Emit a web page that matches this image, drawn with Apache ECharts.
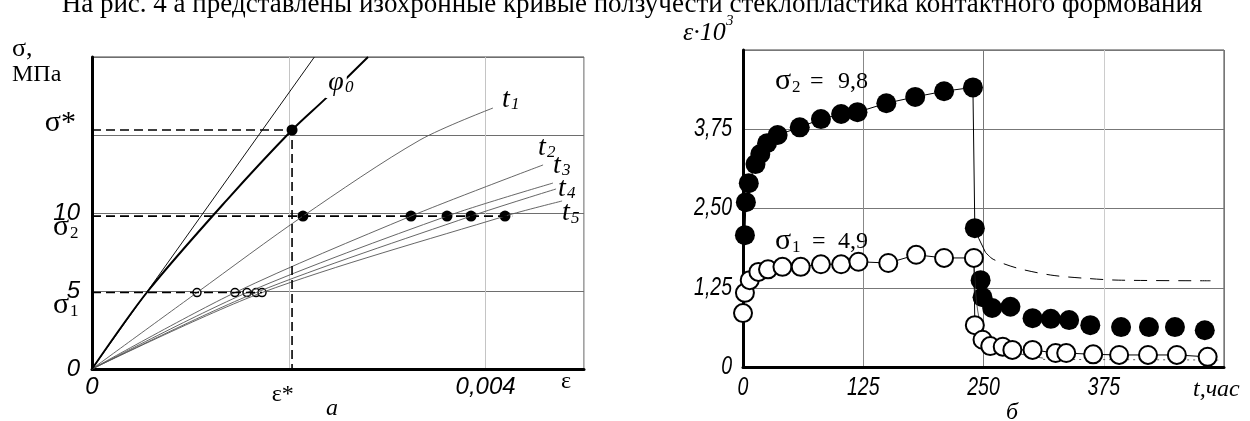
<!DOCTYPE html>
<html>
<head>
<meta charset="utf-8">
<script src="https://cdn.jsdelivr.net/npm/echarts@6/dist/echarts.min.js"></script>
<style>
html, body { margin: 0; padding: 0; background: #fff; }
#chart { width: 1250px; height: 421px; }
</style>
</head>
<body>
<div id="chart"></div>
<script>
// ---- panel a: isochronous creep curves, sigma (MPa) vs strain
const sigmaStar = 15.32
const epsStar = 0.002033
const sigma1 = 4.9
const sigma2 = 9.8
const elastic = [[0, 0], [0.00226, 20]]
const phi0 = [[0, 0], [0.000569, 5], [0.00137, 10.83], [0.002033, 15.32], [0.002368, 17.3], [0.002805, 20]]
const t1 = [[0, 0], [0.001067, 4.9], [0.002144, 9.8], [0.003333, 14.68], [0.004075, 16.73]]
const t2 = [[0, 0], [0.001453, 4.9], [0.003242, 9.8], [0.004584, 13.08]]
const t3 = [[0, 0], [0.001575, 4.9], [0.003608, 9.8], [0.004685, 11.92]]
const t4 = [[0, 0], [0.001667, 4.9], [0.003852, 9.8], [0.004716, 11.54]]
const t5 = [[0, 0], [0.001728, 4.9], [0.004197, 9.8], [0.004777, 10.77]]
const epsSigma1 = [0.001067, 0.001453, 0.001575, 0.001667, 0.001728]
const epsSigma2 = [0.002144, 0.003242, 0.003608, 0.003852, 0.004197]
const sigma2DashEnd = 0.00427

// ---- panel b: creep and recovery, strain*10^3 vs hours
const hoursLoad2 = [2, 3, 6, 13, 18, 25, 36, 59, 81, 102, 119, 149, 179, 209, 239]
const strainLoad2 = [2.08, 2.60, 2.90, 3.20, 3.36, 3.53, 3.66, 3.78, 3.91, 3.99, 4.02, 4.16, 4.26, 4.35, 4.41]
const hoursRec2 = [241, 247, 249, 259, 278, 301, 320, 339, 361, 393, 422, 449, 480]
const strainRec2 = [2.19, 1.37, 1.10, 0.93, 0.95, 0.77, 0.76, 0.74, 0.66, 0.63, 0.63, 0.63, 0.58]
const hours1 = [0, 2, 7, 16, 26, 41, 60, 81, 102, 120, 151, 180, 209, 240,
  241, 249, 257, 270, 280, 301, 325, 336, 364, 391, 421, 451, 483]
const strain1 = [0.85, 1.17, 1.37, 1.50, 1.54, 1.58, 1.58, 1.62, 1.62, 1.66, 1.64, 1.77, 1.72, 1.72,
  0.66, 0.43, 0.33, 0.32, 0.27, 0.27, 0.22, 0.22, 0.20, 0.19, 0.19, 0.19, 0.16]
const drop2 = [[239, 4.41], [241, 2.19], [245, 2.03], [252, 1.81]]
const model2 = [[252, 1.81], [260, 1.70], [285, 1.56], [320, 1.45], [355, 1.40], [390, 1.37], [486, 1.36]]
const model1 = [[240, 1.72], [242, 1.15], [245, 0.80], [250, 0.55], [258, 0.40], [270, 0.30], [290, 0.20], [312, 0.14]]
const model1Tail = [[312, 0.12], [494, 0.11]]
const hourTicks = [0, 125, 250, 375]
const hourLabels = ['0', '125', '250', '375']
const strainTicks = [0, 1.25, 2.5, 3.75]
const strainLabels = ['0', '1,25', '2,50', '3,75']

const serif = "'Liberation Serif', 'Times New Roman', serif"
const sans = "'Liberation Sans', Arial, sans-serif"

const zip = (xs, ys) => xs.map((x, i) => [x, ys[i]])

function txt(x, y, text, size, family, italic, align, extra) {
    return {
        type: 'text', x: x, y: y, z: 100,
        style: Object.assign({
            text: text, fontSize: size, fontFamily: family,
            fontStyle: italic ? 'italic' : 'normal', fill: '#000',
            align: align || 'left', verticalAlign: 'middle'
        }, extra || {})
    }
}

const chart = echarts.init(document.getElementById('chart'))

const thinCurve = (data) => ({
    type: 'line', xAxisIndex: 0, yAxisIndex: 0, data: data, smooth: 0.3,
    showSymbol: false, silent: true, clip: false,
    lineStyle: { color: '#555', width: 0.9 }
})
const dashed = (data) => ({
    type: 'line', xAxisIndex: 0, yAxisIndex: 0, data: data,
    showSymbol: false, silent: true, clip: false,
    lineStyle: { color: '#000', width: 1.6, type: [9, 5] }
})

const option = {
    animation: false,
    grid: [
        { left: 92, top: 57, width: 492, height: 312, show: true, borderColor: '#444', borderWidth: 1, outerBoundsMode: 'none' },
        { left: 743, top: 50, width: 481, height: 317, show: true, borderColor: '#444', borderWidth: 1, outerBoundsMode: 'none' }
    ],
    xAxis: [
        {
            gridIndex: 0, type: 'value', min: 0, max: 0.005, interval: 0.002,
            axisLine: { lineStyle: { color: '#000', width: 3 } },
            axisTick: { show: false },
            splitLine: { show: true, lineStyle: { color: '#c4c4c4', width: 1 } },
            axisLabel: {
                margin: 6, fontSize: 24, fontStyle: 'italic', fontFamily: sans, color: '#000',
                formatter: v => Math.abs(v) < 1e-9 ? '0' : Math.abs(v - 0.004) < 1e-9 ? '0,004' : Math.abs(v - 0.002) < 1e-9 ? '{e|ε*}' : '',
                rich: { e: { fontFamily: serif, fontStyle: 'normal', fontSize: 24, padding: [8, 12, 0, 0] } }
            }
        },
        {
            gridIndex: 1, type: 'value', min: 0, max: 500, interval: 125,
            axisLine: { lineStyle: { color: '#000', width: 3 } },
            axisTick: { show: false },
            splitLine: { show: true, lineStyle: { color: ['#888', '#888', '#777', '#cccccc', '#777'], width: 1 } },
            axisLabel: { show: false }
        }
    ],
    yAxis: [
        {
            gridIndex: 0, type: 'value', min: 0, max: 20, interval: 5,
            axisLine: { show: true, lineStyle: { color: '#000', width: 3 } },
            axisTick: { show: false },
            splitLine: { show: true, lineStyle: { color: '#6e6e6e', width: 1 } },
            axisLabel: {
                margin: 12, fontSize: 24, fontStyle: 'italic', fontFamily: sans, color: '#000',
                formatter: v => ({ 0: '0', 5: '5', 10: '10' })[Math.round(v)] || ''
            }
        },
        {
            gridIndex: 1, type: 'value', min: 0, max: 5, interval: 1.25,
            axisLine: { show: true, lineStyle: { color: '#000', width: 3 } },
            axisTick: { show: false },
            splitLine: { show: true, lineStyle: { color: '#777', width: 1 } },
            axisLabel: { show: false }
        }
    ],
    series: [
        // panel a
        thinCurve(t1), thinCurve(t2), thinCurve(t3), thinCurve(t4), thinCurve(t5),
        {
            type: 'line', xAxisIndex: 0, yAxisIndex: 0, data: elastic, showSymbol: false, silent: true, clip: false,
            lineStyle: { color: '#111', width: 1 }
        },
        {
            type: 'line', xAxisIndex: 0, yAxisIndex: 0, data: phi0, smooth: 0.3, showSymbol: false, silent: true, clip: false,
            lineStyle: { color: '#000', width: 2 }
        },
        dashed([[0, sigmaStar], [epsStar, sigmaStar], [epsStar, 0]]),
        dashed([[0, sigma2], [sigma2DashEnd, sigma2]]),
        dashed([[0, sigma1], [epsSigma1[epsSigma1.length - 1], sigma1]]),
        {
            type: 'scatter', xAxisIndex: 0, yAxisIndex: 0, symbolSize: 11, silent: true,
            data: [[epsStar, sigmaStar]].concat(epsSigma2.map(e => [e, sigma2])),
            itemStyle: { color: '#000', opacity: 1 }
        },
        {
            type: 'scatter', xAxisIndex: 0, yAxisIndex: 0, symbolSize: 8, silent: true,
            data: epsSigma1.map(e => [e, sigma1]),
            itemStyle: { color: '#fff', borderColor: '#000', borderWidth: 1.5, opacity: 1 }
        },
        // panel b
        {
            type: 'line', xAxisIndex: 1, yAxisIndex: 1, data: model2, smooth: 0.3, showSymbol: false, silent: true, clip: false,
            lineStyle: { color: '#000', width: 1, type: [13, 9] }
        },
        {
            type: 'line', xAxisIndex: 1, yAxisIndex: 1, data: model1, smooth: 0.3, showSymbol: false, silent: true, clip: false,
            lineStyle: { color: '#333', width: 0.8 }
        },
        {
            type: 'line', xAxisIndex: 1, yAxisIndex: 1, data: model1Tail, showSymbol: false, silent: true, clip: false,
            lineStyle: { color: '#333', width: 0.8, type: [2, 4] }
        },
        {
            type: 'line', xAxisIndex: 1, yAxisIndex: 1, data: drop2, showSymbol: false, silent: true, clip: false,
            lineStyle: { color: '#000', width: 1 }
        },
        {
            type: 'line', xAxisIndex: 1, yAxisIndex: 1, data: zip(hoursLoad2, strainLoad2), clip: false, silent: true,
            symbol: 'circle', symbolSize: 20, showAllSymbol: true,
            lineStyle: { color: '#000', width: 1 }, itemStyle: { color: '#000', opacity: 1 }
        },
        {
            type: 'scatter', xAxisIndex: 1, yAxisIndex: 1, data: zip(hoursRec2, strainRec2), silent: true,
            symbolSize: 20, itemStyle: { color: '#000', opacity: 1 }
        },
        {
            type: 'line', xAxisIndex: 1, yAxisIndex: 1, data: zip(hours1, strain1), clip: false, silent: true,
            symbol: 'circle', symbolSize: 18, showAllSymbol: true,
            lineStyle: { color: '#000', width: 1 },
            itemStyle: { color: '#fff', borderColor: '#000', borderWidth: 2, opacity: 1 }
        }
    ]
}

chart.setOption(option)

// sub/superscripted names, captions and the condensed tick labels of panel b
const graphic = [
    txt(632, 5, 'На рис. 4 а представлены изохронные кривые ползучести стеклопластика контактного формования', 27, serif, false, 'center'),
    // panel a
    txt(12, 49, 'σ,', 26, serif),
    txt(12, 75, 'МПа', 24, serif),
    txt(76, 123, 'σ*', 30, serif, false, 'right'),
    txt(53, 305, 'σ', 30, serif), txt(70, 312, '1', 17, serif),
    txt(53, 227, 'σ', 30, serif), txt(70, 234, '2', 17, serif),
    txt(566, 382, 'ε', 24, serif, false, 'center'),
    txt(332, 409, 'а', 24, serif, true, 'center'),
    txt(336, 83, 'φ', 28, serif, true, 'center', { backgroundColor: '#fff', padding: [1, 3, 1, 3] }),
    txt(345, 88, '0', 17, serif, true),
    txt(502, 100, 't', 28, serif, true), txt(511, 105, '1', 17, serif, true),
    txt(538, 148, 't', 28, serif, true), txt(547, 153, '2', 17, serif, true),
    txt(553, 166, 't', 28, serif, true), txt(562, 171, '3', 17, serif, true),
    txt(558, 189, 't', 28, serif, true), txt(567, 194, '4', 17, serif, true),
    txt(562, 213, 't', 28, serif, true), txt(571, 219, '5', 17, serif, true),
    // panel b
    txt(683, 33, 'ε·10', 26, serif, true), txt(726, 21, '3', 15, serif, true),
    txt(775, 81, 'σ', 30, serif), txt(792, 88, '2', 17, serif),
    txt(810, 82, '=', 24, serif), txt(838, 82, '9,8', 24, serif),
    txt(775, 241, 'σ', 30, serif), txt(792, 248, '1', 17, serif),
    txt(812, 242, '=', 24, serif), txt(838, 242, '4,9', 24, serif),
    txt(1193, 390, 't,час', 24, serif, true),
    txt(1012, 413, 'б', 24, serif, true, 'center')
]
hourTicks.forEach((h, i) => {
    const p = chart.convertToPixel({ gridIndex: 1 }, [h, 0])
    graphic.push(Object.assign(txt(p[0], p[1] + 21, hourLabels[i], 25, sans, true, 'center'), { scaleX: 0.78 }))
})
strainTicks.forEach((s, i) => {
    const p = chart.convertToPixel({ gridIndex: 1 }, [0, s])
    graphic.push(Object.assign(txt(p[0] - 11, p[1], strainLabels[i], 25, sans, true, 'right'), { scaleX: 0.78 }))
})
chart.setOption({ graphic: graphic })
</script>
</body>
</html>
